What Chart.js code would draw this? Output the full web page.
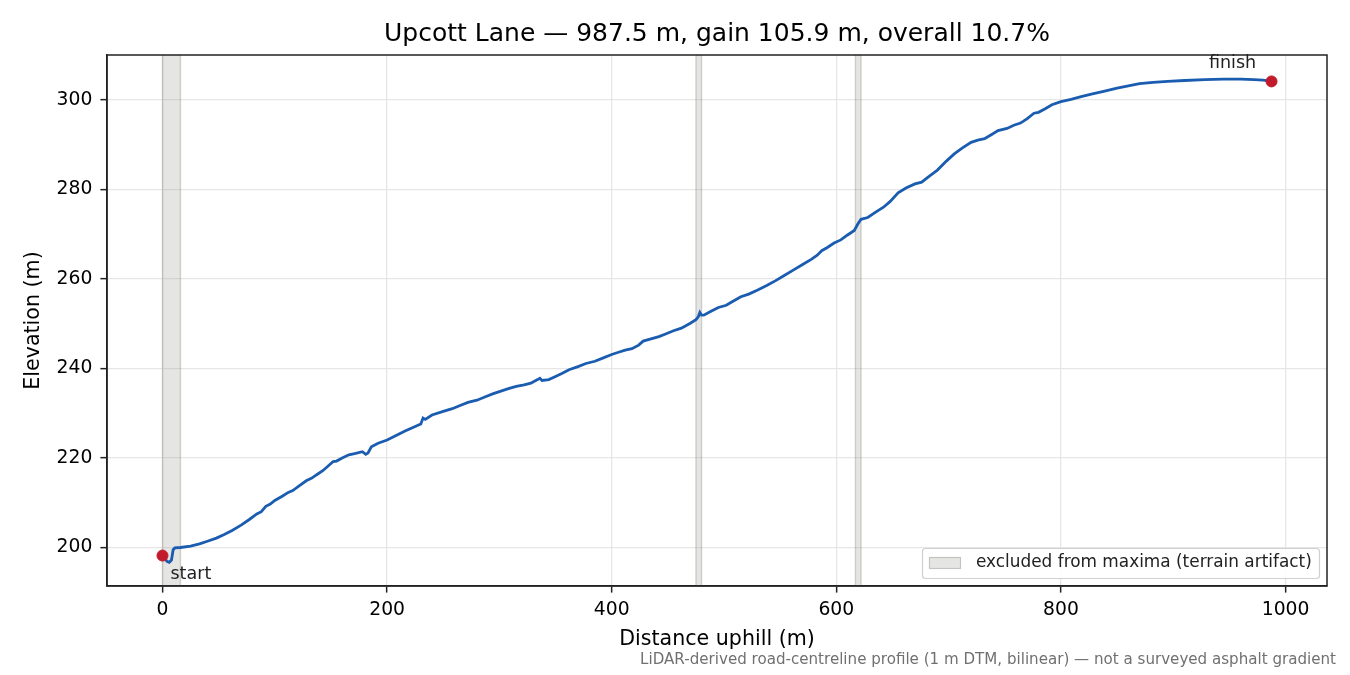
<!DOCTYPE html>
<html>
<head>
<meta charset="utf-8">
<script src="https://cdn.jsdelivr.net/npm/chart.js@4.4.0/dist/chart.umd.min.js"></script>
<style>
html,body{margin:0;padding:0;background:#fff;}
#wrap{width:1350px;height:675px;position:relative;}
</style>
</head>
<body>
<div id="wrap"><canvas id="c" width="1350" height="675"></canvas></div>
<script>
// ---- data ----
const distance = [0,2,4,6,8,9.5,11,16,25,33,40,48,55,62,70,77,84,88,92,96,100,107,112,116,122,128,133,137,143,148,152,155,160,166,172,178,181,183,186,192,200,208,216,224,230,232,234,240,250,258,265,272,280,287,294,300,308,315,322,328,334,336,338,344,350,356,362,370,377,385,392,400,406,412,418,424,428,435,442,448,455,462,470,475,477,478.5,480,482,488,495,502,508,515,522,530,538,546,554,562,570,578,583,587,592,598,604,610,616,619,622,628,635,642,648,655,662,670,676,682,690,698,705,712,720,726,732,738,744,752,758,764,770,776,780,786,792,800,809,818,828,838,850,860,870,882,895,910,928,945,960,972,980,987.5];
const elevation = [198.2,197.6,196.9,196.7,197.2,199.5,199.9,200.0,200.3,200.8,201.4,202.1,202.9,203.8,205.0,206.2,207.5,208.0,209.2,209.7,210.5,211.5,212.3,212.7,213.8,214.9,215.5,216.2,217.2,218.3,219.2,219.3,220.0,220.7,221.0,221.4,220.8,221.1,222.5,223.3,224.0,225.0,226.0,226.9,227.6,228.9,228.6,229.6,230.4,231.0,231.7,232.4,232.9,233.6,234.3,234.8,235.5,236.0,236.3,236.7,237.5,237.8,237.3,237.5,238.2,238.9,239.7,240.4,241.1,241.6,242.3,243.1,243.6,244.1,244.4,245.2,246.1,246.6,247.1,247.7,248.4,249.0,250.1,250.9,251.5,252.5,251.9,251.9,252.7,253.6,254.1,255.0,256.0,256.6,257.5,258.5,259.6,260.8,262.0,263.2,264.4,265.3,266.3,267.0,268.0,268.7,269.8,270.8,272.2,273.3,273.7,274.9,276.0,277.3,279.2,280.3,281.2,281.6,282.8,284.3,286.3,287.9,289.2,290.5,291.0,291.3,292.2,293.1,293.6,294.3,294.8,295.8,297.0,297.2,298.0,298.9,299.6,300.1,300.7,301.3,301.9,302.6,303.1,303.6,303.9,304.1,304.3,304.5,304.6,304.6,304.5,304.4,304.1];
const excludedStart = [0, 475, 617];
const excludedEnd = [16, 480, 622];
const endpointLabels = ['start', 'finish'];
const xTicks = [0,200,400,600,800,1000];
const yTicks = [200,220,240,260,280,300];
const titleText = 'Upcott Lane \u2014 987.5 m, gain 105.9 m, overall 10.7%';
const xLabel = 'Distance uphill (m)';
const yLabel = 'Elevation (m)';
const legendText = 'excluded from maxima (terrain artifact)';
const footnote = 'LiDAR-derived road-centreline profile (1 m DTM, bilinear) \u2014 not a surveyed asphalt gradient';

const FONT = '"DejaVu Sans", sans-serif';
const linePts = distance.map((d,i)=>({x:d,y:elevation[i]}));
const last = distance.length-1;
const endPts = [{x:distance[0],y:elevation[0]},{x:distance[last],y:elevation[last]}];

const bandsPlugin = {
  id:'bands',
  beforeDatasetsDraw(chart){
    const {ctx, chartArea:a, scales:{x}} = chart;
    ctx.save();
    for(let i=0;i<excludedStart.length;i++){
      const x0 = x.getPixelForValue(excludedStart[i]);
      const x1 = x.getPixelForValue(excludedEnd[i]);
      ctx.fillStyle = 'rgba(150,150,145,0.25)';
      ctx.fillRect(x0, a.top, x1-x0, a.bottom-a.top);
      ctx.strokeStyle = 'rgba(120,120,115,0.3)';
      ctx.lineWidth = 1.4;
      ctx.beginPath();
      ctx.moveTo(x0, a.top); ctx.lineTo(x0, a.bottom);
      ctx.moveTo(x1, a.top); ctx.lineTo(x1, a.bottom);
      ctx.stroke();
    }
    ctx.restore();
  }
};

const decorPlugin = {
  id:'decor',
  afterDraw(chart){
    const {ctx, chartArea:a, scales:{x,y}} = chart;
    ctx.save();
    // spines
    ctx.strokeStyle = '#222';
    ctx.lineWidth = 1.5;
    ctx.strokeRect(a.left, a.top, a.right-a.left, a.bottom-a.top);
    // title
    ctx.fillStyle = '#000';
    ctx.font = '25px ' + FONT;
    ctx.textAlign = 'center';
    ctx.textBaseline = 'middle';
    ctx.fillText(titleText, (a.left+a.right)/2, 34);
    // axis labels
    ctx.font = '20.6px ' + FONT;
    ctx.fillText(xLabel, (a.left+a.right)/2, 640);
    ctx.save();
    ctx.translate(34, (a.top+a.bottom)/2);
    ctx.rotate(-Math.PI/2);
    ctx.fillText(yLabel, 0, 0);
    ctx.restore();
    // endpoint annotations
    ctx.font = '17.5px ' + FONT;
    ctx.fillStyle = '#222';
    ctx.textAlign = 'left';
    const sx = x.getPixelForValue(endPts[0].x), sy = y.getPixelForValue(endPts[0].y);
    ctx.fillText(endpointLabels[0], sx+8, sy+19);
    ctx.textAlign = 'center';
    const fx = x.getPixelForValue(endPts[1].x), fy = y.getPixelForValue(endPts[1].y);
    ctx.fillText(endpointLabels[1], fx-39, fy-18);
    // legend
    const lx=922, ly=548, lw=397, lh=30;
    ctx.fillStyle = 'rgba(255,255,255,0.85)';
    ctx.strokeStyle = '#d0d0d0';
    ctx.lineWidth = 1.2;
    ctx.beginPath();
    ctx.roundRect(lx+0.5, ly+0.5, lw, lh, 3);
    ctx.fill(); ctx.stroke();
    ctx.fillStyle = 'rgba(150,150,145,0.25)';
    ctx.fillRect(929, 557, 32, 12);
    ctx.strokeStyle = 'rgba(120,120,115,0.3)';
    ctx.strokeRect(929.5, 557.5, 31, 11);
    ctx.fillStyle = '#222';
    ctx.textAlign = 'left';
    ctx.font = '16.9px ' + FONT;
    ctx.fillText(legendText, 976, 563);
    // footnote
    ctx.font = '15.1px ' + FONT;
    ctx.fillStyle = '#707070';
    ctx.textAlign = 'right';
    ctx.fillText(footnote, 1336, 660);
    ctx.restore();
  }
};

new Chart(document.getElementById('c'), {
  type:'line',
  data:{
    datasets:[
      {data:linePts, borderColor:'#1a5cb0', borderWidth:2.8, pointRadius:0, tension:0, fill:false, order:2},
      {type:'scatter', data:endPts, backgroundColor:'#c11b2b', borderColor:'#c11b2b', pointRadius:5.5, pointHoverRadius:5.5, order:1}
    ]
  },
  options:{
    responsive:false,
    devicePixelRatio:1,
    animation:false,
    events:[],
    layout:{padding:{left:0, top:55, right:23, bottom:0}},
    plugins:{legend:{display:false}, title:{display:false}, tooltip:{enabled:false}},
    scales:{
      x:{
        type:'linear', min:-49.4, max:1036.9,
        afterBuildTicks(s){ s.ticks = xTicks.map(v=>({value:v})); },
        afterFit(s){ s.height = 89; },
        grid:{color:'#e6e6e6', lineWidth:1.3, drawTicks:true, tickLength:6.6, tickColor:'#222', tickWidth:1.5},
        border:{display:true, color:'#222', width:1.5},
        ticks:{color:'#000', font:{family:FONT, size:18.75}, padding:6, maxRotation:0, callback:v=>String(v)}
      },
      y:{
        type:'linear', min:191.4, max:310.0,
        afterBuildTicks(s){ s.ticks = yTicks.map(v=>({value:v})); },
        afterFit(s){ s.width = 107; },
        grid:{color:'#e6e6e6', lineWidth:1.3, drawTicks:true, tickLength:6.6, tickColor:'#222', tickWidth:1.5},
        border:{display:true, color:'#222', width:1.5},
        ticks:{color:'#000', font:{family:FONT, size:18.75}, padding:8, callback:v=>String(v)}
      }
    }
  },
  plugins:[bandsPlugin, decorPlugin]
});
</script>
</body>
</html>
